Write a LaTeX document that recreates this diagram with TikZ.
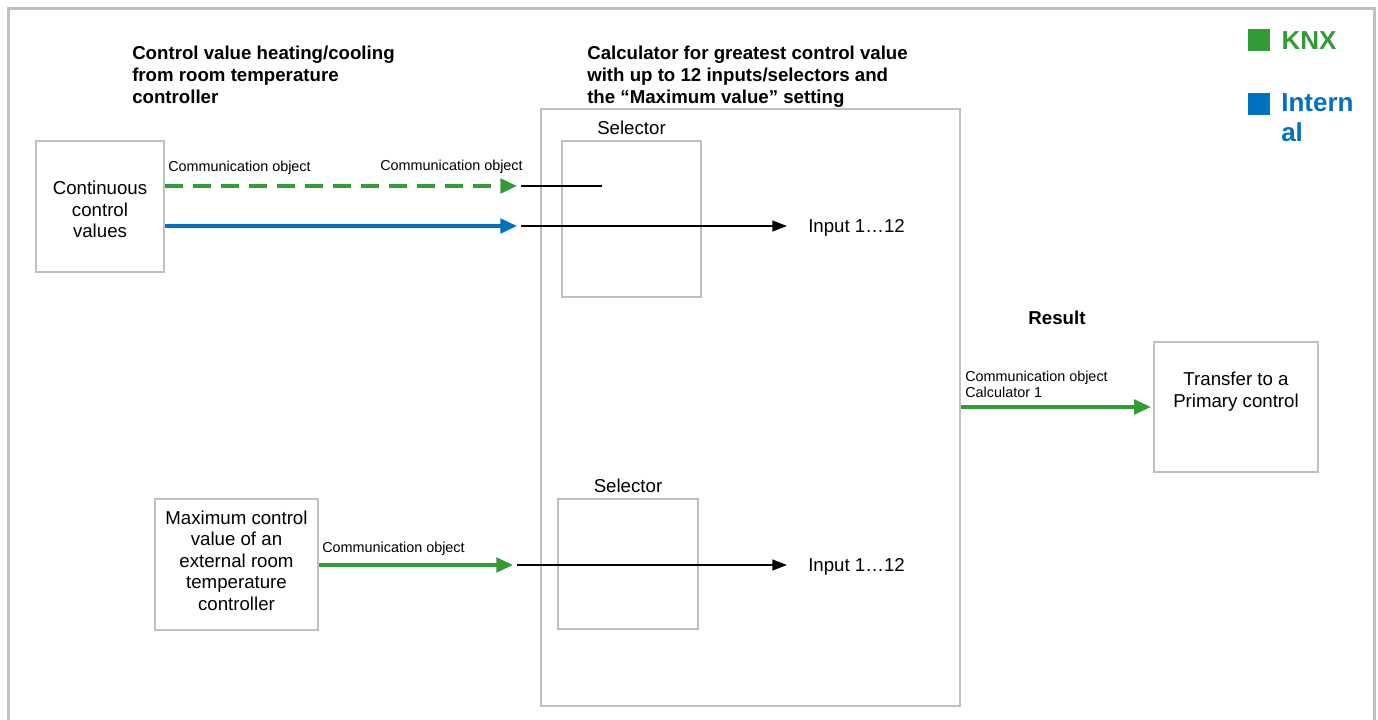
\documentclass[tikz,border=0pt]{standalone}
\usepackage{fontspec}
\setmainfont{Liberation Sans}
\usetikzlibrary{arrows.meta,positioning}
\definecolor{knxgreen}{RGB}{51,155,51}
\definecolor{intblue}{RGB}{0,112,192}
\definecolor{boxgray}{RGB}{192,192,192}

\begin{document}
\begin{tikzpicture}[x=0.75pt,y=-0.75pt,
    box/.style={draw=boxgray,line width=1.8pt,inner sep=0,align=center,
      font=\fontsize{14}{16}\selectfont},
    every label/.style={align=center,font=\fontsize{14}{16.1}\selectfont},
    head/.style={anchor=north west,align=left,inner sep=0,
      font=\bfseries\fontsize{14}{16.5}\selectfont},
    small/.style={anchor=west,align=left,inner sep=0,font=\fontsize{10.8}{12}\selectfont},
    plain/.style={anchor=west,inner sep=0,font=\fontsize{14}{16}\selectfont},
    knx/.style={knxgreen,line width=2.3pt,shorten >=1.5pt,
      -{Triangle[length=12.5pt,width=11pt]}},
    internal/.style={intblue,line width=2.3pt,shorten >=1.5pt,
      -{Triangle[length=12.5pt,width=11pt]}},
    wire/.style={black,line width=1.75pt,shorten <=1.5pt},
    wirearrow/.style={wire,shorten >=15.75pt,-{Triangle[length=11pt,width=8pt]}},
    key/.style={minimum size=16.5pt,inner sep=0},
    keytext/.style={inner sep=0,font=\bfseries\fontsize{19.5}{22.5}\selectfont}]

    \useasboundingbox (0,0) rectangle (1378,720);
    \draw[boxgray,line width=1.6pt] (8.5,740) -- (8.5,8.5) -- (1374.5,8.5) -- (1374.5,740);

    \node[head] (headctrl) at (132,45.3) {Control value heating/cooling\\from room temperature\\controller};
    \node[head] (headcalc) at (587,45.3) {Calculator for greatest control value\\with up to 12 inputs/selectors and\\the “Maximum value” setting};

    \node[box,minimum width=96pt,minimum height=98.25pt,
        label={[yshift=-2.2pt]center:Continuous\\control\\values}] (cont) at (100,206.5) {};
    \node[box,minimum width=122.25pt,minimum height=98.25pt,
        label={[yshift=3pt]center:Maximum control\\value of an\\external room\\temperature\\controller}] (maxv) at (236.5,564.5) {};
    \node[box,line width=2.2pt,minimum width=314.25pt,minimum height=447.75pt] (calc) at (750.5,407.5) {};
    \node[box,minimum width=104.25pt,minimum height=117pt,label=above:Selector] (sel1) at (631.5,219) {};
    \node[box,minimum width=105pt,minimum height=97.5pt,label=above:Selector] (sel2) at (628,564) {};
    \node[box,minimum width=123pt,minimum height=97.5pt,
        label={[yshift=11.6pt]center:Transfer to a\\Primary control}] (prim) at (1236,407) {};

    \node[plain] (in1) at (808,227.5) {Input 1…12};
    \node[plain] (in2) at (808,566.5) {Input 1…12};
    \node[anchor=center,inner sep=0,font=\bfseries\fontsize{14}{16}\selectfont] (result) at (1057,318) {Result};

    \node[small] (co1) at (168,167.5) {Communication object};
    \node[small] (co2) at (380,167) {Communication object};
    \node[small] (co3) at (322,548.5) {Communication object};
    \node[small] (co4) at (965,384) {Communication object\\Calculator 1};

    \coordinate (g1) at (519,186);
    \coordinate (g2) at (519,226);
    \coordinate (g3) at (515,565);
    \coordinate (stub) at (602,186);

    \draw[knx,dash pattern=on 13.5pt off 7.5pt] (cont.east |- g1) -- (g1);
    \draw[internal] (cont.east |- g2) -- (g2);
    \draw[wire] (g1) -- (stub);
    \draw[wirearrow] (g2) -- (in1.west |- g2);
    \draw[knx] (maxv.east |- g3) -- (g3);
    \draw[wirearrow] (g3) -- (in2.west |- g3);
    \draw[knx] (calc.east |- prim.west) -- (prim.west);

    \node[key,fill=knxgreen] (knxkey) at (1259,40.5) {};
    \node[keytext,text=knxgreen,right=8.25pt of knxkey] (knxtext) {KNX};
    \node[key,fill=intblue] (intkey) at (1259,104.5) {};
    \node[keytext,text=intblue,anchor=north west,align=left] (inttext) at (1281,93) {Intern\\al};
\end{tikzpicture}
\end{document}
